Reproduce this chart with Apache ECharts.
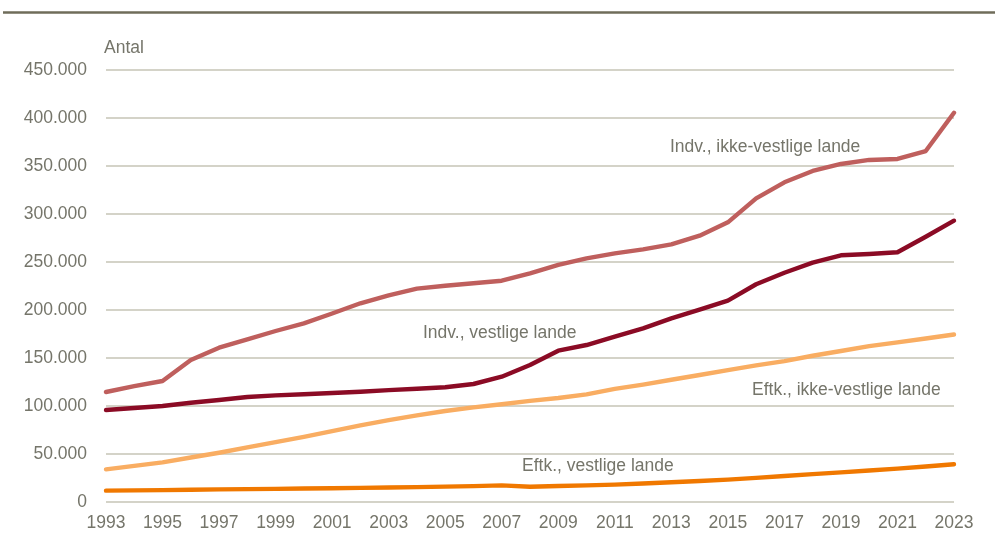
<!DOCTYPE html>
<html>
<head>
<meta charset="utf-8">
<script src="https://cdn.jsdelivr.net/npm/echarts@6/dist/echarts.min.js"></script>
<style>html,body{margin:0;padding:0;background:#fff}#c{width:995px;height:545px}</style>
</head>
<body>
<div id="c"></div>
<script>
const years = ['1993','1994','1995','1996','1997','1998','1999','2000','2001','2002','2003','2004','2005','2006','2007','2008','2009','2010','2011','2012','2013','2014','2015','2016','2017','2018','2019','2020','2021','2022','2023'];
const indvIkkeVestlige = [114300,120300,125700,147600,160400,169200,177800,185800,196000,206700,215000,222000,225000,227500,230200,237900,246600,253500,258700,262900,268000,277100,291000,316000,332700,344500,351800,356000,357000,365300,405200];
const indvVestlige = [95500,97600,99700,103100,105900,109100,110800,111900,113200,114600,116200,117700,119200,122600,130200,142400,157300,163200,171900,180600,191000,200000,209500,226500,238500,249000,256700,258000,259800,276000,292700];
const eftkIkkeVestlige = [33700,37300,41000,46000,51000,56500,62000,67500,73500,79500,85000,90000,94500,98300,101500,105000,108000,111800,117500,122000,127000,132000,137000,142000,146500,152000,157000,162000,166000,170000,174200];
const eftkVestlige = [11500,11800,12100,12400,12800,13100,13400,13700,14000,14400,14800,15200,15700,16200,17000,15600,16300,17000,17800,18900,20200,21500,23000,24800,26700,28700,30600,32500,34500,36700,39000];
const yTicks = {min:0, max:450000, interval:50000};

const txt = '#75756a';
const font = '"Liberation Sans", Arial, sans-serif';
const fs = 17.5;
const chart = echarts.init(document.getElementById('c'), null, {renderer:'canvas'});
function mk(name, data, color){
  return {name, type:'line', data, symbol:'none', smooth:false,
    lineStyle:{color, width:4.4, cap:'round', join:'round'}, itemStyle:{color}, z:3};
}
function lbl(text, x, y){
  return {type:'text', x, y, style:{text, fill:txt, font:fs+'px '+font, textAlign:'left', textVerticalAlign:'middle'}};
}
chart.setOption({
  animation:false,
  grid:{left:106, right:41, top:69.7, bottom:43.3, containLabel:false},
  xAxis:{type:'category', data:years, boundaryGap:false,
    axisLine:{show:false}, axisTick:{show:false},
    axisLabel:{interval:1, color:txt, fontSize:fs, fontFamily:font, margin:12}},
  yAxis:{type:'value', min:yTicks.min, max:yTicks.max, interval:yTicks.interval,
    axisLine:{show:false}, axisTick:{show:false},
    splitLine:{lineStyle:{color:'#c6c4b6', width:1.5}},
    axisLabel:{color:txt, fontSize:fs, fontFamily:font, margin:19,
      formatter:v=>v===0?'0':String(v).replace(/\B(?=(\d{3})+(?!\d))/g,'.')}},
  series:[
    mk('Eftk., vestlige lande', eftkVestlige, '#f07800'),
    mk('Eftk., ikke-vestlige lande', eftkIkkeVestlige, '#f9ad62'),
    mk('Indv., vestlige lande', indvVestlige, '#8b0b25'),
    mk('Indv., ikke-vestlige lande', indvIkkeVestlige, '#bf5f5d')
  ],
  graphic:[
    {type:'line', shape:{x1:3,y1:12.5,x2:995,y2:12.5}, style:{stroke:'#6f6c5a', lineWidth:2.5}},
    lbl('Antal', 104, 48),
    lbl('Indv., ikke-vestlige lande', 670, 147),
    lbl('Indv., vestlige lande', 423, 333),
    lbl('Eftk., ikke-vestlige lande', 752, 390),
    lbl('Eftk., vestlige lande', 522, 466)
  ]
});
</script>
</body>
</html>
